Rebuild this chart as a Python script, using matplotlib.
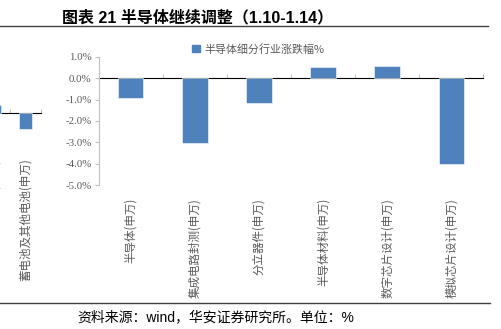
import matplotlib
matplotlib.use("Agg")
import matplotlib.pyplot as plt
from matplotlib.ticker import FuncFormatter
from matplotlib.patches import Patch

# ---- data ----
categories = ["半导体(申万)", "集成电路封测(申万)", "分立器件(申万)",
              "半导体材料(申万)", "数字芯片设计(申万)", "模拟芯片设计(申万)"]
values = [-0.90, -3.02, -1.15, 0.54, 0.59, -4.02]
series_name = "半导体细分行业涨跌幅%"
yticks = [1, 0, -1, -2, -3, -4, -5]

# neighbouring (cut-off) chart on the left
left_categories = ["锂电池(申万)", "蓄电池及其他电池(申万)"]
left_values = [0.5, -1.0]

title = "图表 21 半导体继续调整（1.10-1.14）"
source = "资料来源：wind，华安证券研究所。单位：%"

BAR = "#4f81bd"
GRID = "#d9d9d9"
SPINE = "#bfbfbf"
TXT = "#595959"
CJK = ["Noto Sans CJK SC", "DejaVu Sans"]

W, H = 501, 329
fig = plt.figure(figsize=(W / 100, H / 100), dpi=100)


def fx(px):
    return px / W


def fy(py):
    return 1 - py / H


def setup_axis(ax, cats, vals, ymin, ymax, show_y):
    x = list(range(len(cats)))
    ax.bar(x, vals, width=0.4, color=BAR, edgecolor="white", linewidth=0.4, zorder=3)
    ax.set_xlim(-0.5, len(cats) - 0.5)
    ax.set_ylim(ymin, ymax)
    ax.set_xticks(x)
    ax.set_xticklabels(cats, rotation=90, family=CJK, fontsize=8.3, color=TXT)
    ax.tick_params(axis="x", length=0, pad=9.5)
    for s in ["top", "right", "bottom"]:
        ax.spines[s].set_visible(False)
    ax.patch.set_alpha(0)
    # zero line with category-boundary ticks
    zero_frac = (0 - ymin) / (ymax - ymin)
    sec = ax.secondary_xaxis(zero_frac)
    sec.set_xticks([i + 0.5 for i in x])
    sec.set_xticklabels([])
    sec.tick_params(axis="x", direction="out", length=3, color=SPINE, width=0.8)
    sec.spines["bottom"].set_color(GRID)
    sec.spines["bottom"].set_linewidth(1.0)
    if show_y:
        ax.spines["left"].set_color(SPINE)
        ax.spines["left"].set_linewidth(0.8)
        ax.set_yticks(yticks)
        ax.yaxis.set_major_formatter(FuncFormatter(lambda v, p: f"{v:.1f}%"))
        ax.tick_params(axis="y", direction="out", length=3, color=SPINE, width=0.8,
                       labelsize=7.8, labelcolor=TXT, pad=2,
                       labelfontfamily="Liberation Serif")
    else:
        ax.spines["left"].set_visible(False)
        ax.set_yticks([])
    return ax


# left, cut-off chart
axl = fig.add_axes([fx(-21), fy(145.3), fx(62), fy(81.3) - fy(145.3)])
setup_axis(axl, left_categories, left_values, -2.0, 2.0, False)

# main chart
ax = fig.add_axes([fx(98.5), fy(185), fx(483.5 - 98.5), fy(57) - fy(185)])
setup_axis(ax, categories, values, -5, 1, True)

# legend
fig.legend(handles=[Patch(facecolor=BAR, edgecolor=BAR)], labels=[series_name],
           loc="center left", bbox_to_anchor=(fx(187), fy(49)), frameon=False,
           handlelength=0.65, handleheight=0.65, handletextpad=0.45, borderpad=0,
           prop={"family": CJK, "size": 7.9}, labelcolor=TXT)

# title, rules, footer
fig.text(fx(62), fy(17), title, family=["Liberation Sans", "Noto Sans CJK SC"],
         fontsize=11.5, fontweight="bold", color="black", va="center", ha="left")
fig.add_artist(plt.Line2D([0, fx(488)], [fy(26), fy(26)], color="#404040", lw=1.0))
fig.add_artist(plt.Line2D([0, fx(490)], [fy(303), fy(303)], color="#404040", lw=1.0))
fig.text(fx(77), fy(317), source, family=["Liberation Sans", "Noto Sans CJK SC"],
         fontsize=10, color="black", va="center", ha="left")

fig.savefig("out.png", dpi=100)
